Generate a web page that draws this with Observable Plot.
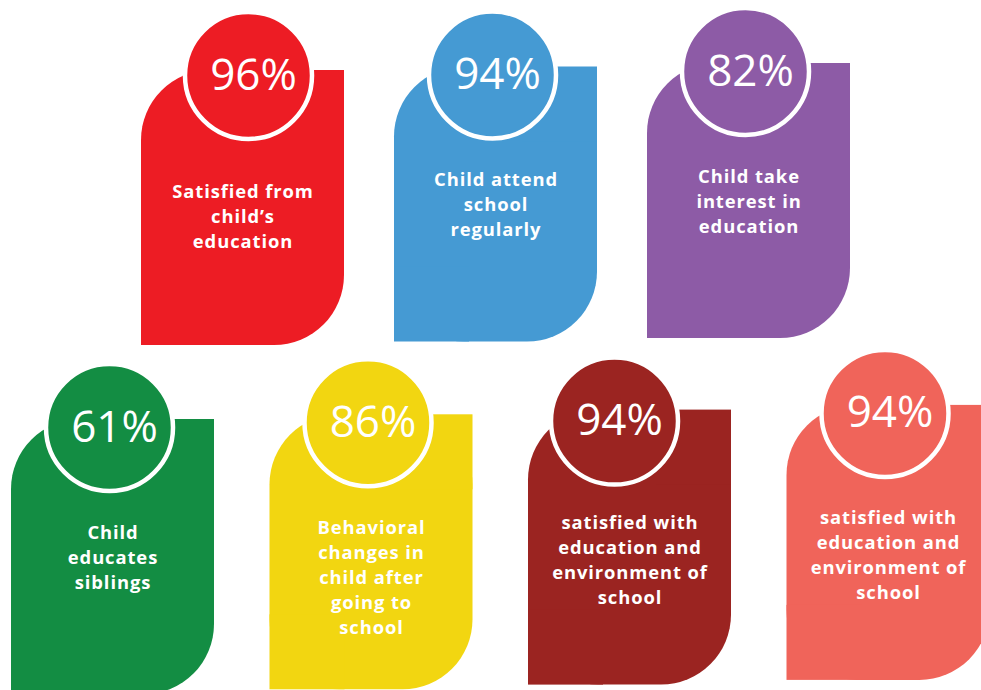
<!DOCTYPE html>
<html><head><meta charset="utf-8">
<script src="https://cdn.jsdelivr.net/npm/d3@7"></script>
<script src="https://cdn.jsdelivr.net/npm/@observablehq/plot@0.6"></script>
<style>body{margin:0;background:#fff}#chart svg{display:block}.lbl{letter-spacing:0.9px}</style>
</head><body><div id="chart"></div>
<script>
// ---- data ----
const labels = [
  "Satisfied from\nchild’s\neducation",
  "Child attend\nschool\nregularly",
  "Child take\ninterest in\neducation",
  "Child\neducates\nsiblings",
  "Behavioral\nchanges in\nchild after\ngoing to\nschool",
  "satisfied with\neducation and\nenvironment of\nschool",
  "satisfied with\neducation and\nenvironment of\nschool"
];
const values = [96, 94, 82, 61, 86, 94, 94];
const colors = ["#ED1C24", "#459AD3", "#8D5BA6", "#138D43", "#F2D611", "#9B2421", "#F0645A"];
const rows = [0, 0, 0, 1, 1, 1, 1];
const cols = [0, 1, 2, 0, 1, 2, 3];

// ---- layout (not data) ----
const W = 981, H = 690;
const grid = [
  {x0: 141, dx: 253, y0: 70, dy: -3.5},
  {x0: 11, dx: 258.5, y0: 419, dy: -4.7}
];
const cardW = 203, cardH = 275, rad = 70, cxOff = 98, cyOff = 8, circleR = 63.5;
const labelSize = 18.4, labelLine = 25;
const nudge = {0: {cx: 9, cy: -3, label: 8}, 5: {cx: -12, cy: 3, label: 0}};

const cards = values.map((v, i) => {
  const g = grid[rows[i]];
  const n = nudge[i] || {cx: 0, cy: 0, label: 0};
  const x1 = g.x0 + cols[i] * g.dx;
  const y1 = g.y0 + cols[i] * g.dy;
  const nLines = labels[i].split("\n").length;
  return {i, v, label: labels[i], x1, x2: x1 + cardW, y1, y2: y1 + cardH,
          cx: x1 + cxOff + n.cx, cy: y1 + cyOff + n.cy,
          lyLast: y1 + 119 + n.label + (nLines - 1) * labelLine};
});
const patchesTR = cards.map(c => ({i: c.i, x1: c.x2 - rad - 5, x2: c.x2, y1: c.y1, y2: c.y1 + rad + 5}));
const patchesBL = cards.map(c => ({i: c.i, x1: c.x1, x2: c.x1 + rad + 5, y1: c.y2 - rad - 5, y2: c.y2}));

const chart = Plot.plot({
  width: W, height: H, margin: 0,
  x: {domain: [0, W], range: [0, W], axis: null},
  y: {domain: [0, H], range: [0, H], axis: null},
  color: {type: "ordinal", domain: d3.range(values.length), range: colors},
  style: {background: "#fff", overflow: "hidden"},
  marks: [
    Plot.rect(cards, {x1: "x1", x2: "x2", y1: "y1", y2: "y2", fill: "i", rx: rad}),
    Plot.rect(patchesTR, {x1: "x1", x2: "x2", y1: "y1", y2: "y2", fill: "i"}),
    Plot.rect(patchesBL, {x1: "x1", x2: "x2", y1: "y1", y2: "y2", fill: "i"}),
    Plot.dot(cards, {x: "cx", y: "cy", r: circleR, fill: "i", stroke: "#fff", strokeWidth: 4.5}),
    Plot.text(cards, {x: d => d.cx + 5, y: d => d.cy + 14, text: d => d.v + "%", fill: "#fff",
      fontSize: 44, fontFamily: "Open Sans", fontWeight: 400, lineAnchor: "bottom", textAnchor: "middle"}),
    Plot.text(cards, {x: d => (d.x1 + d.x2) / 2, y: "lyLast", text: "label", fill: "#fff",
      className: "lbl",
      fontSize: labelSize, lineHeight: labelLine / labelSize, fontFamily: "Open Sans",
      fontWeight: 700, lineAnchor: "bottom", textAnchor: "middle"})
  ]
});
document.getElementById("chart").appendChild(chart);
</script>
</body></html>
